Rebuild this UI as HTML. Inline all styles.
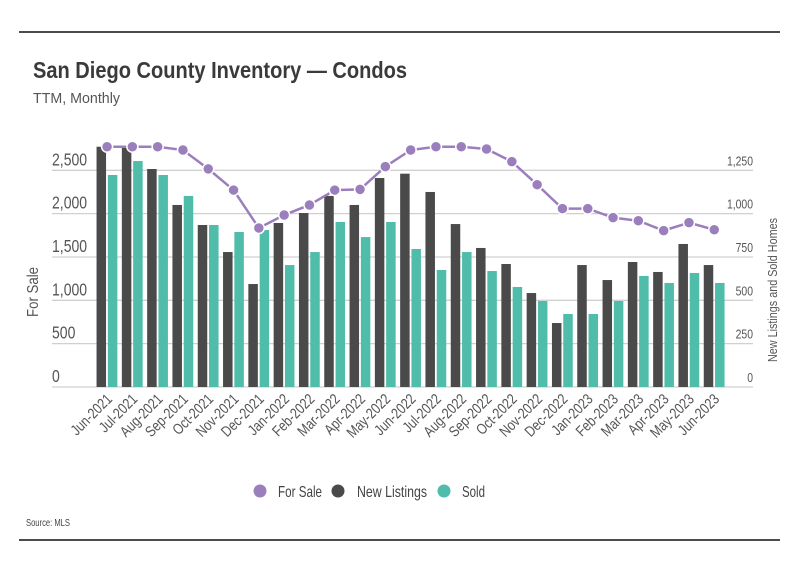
<!DOCTYPE html>
<html><head><meta charset="utf-8"><style>
html,body{margin:0;padding:0;background:#fff;}
body{width:799px;height:575px;overflow:hidden;font-family:"Liberation Sans",sans-serif;}
svg text{font-family:"Liberation Sans",sans-serif;}
</style></head><body>
<svg id="chart" width="799" height="575" xmlns="http://www.w3.org/2000/svg">
<line x1="19" y1="32" x2="780" y2="32" stroke="#111" stroke-width="1.5"/>
<text x="33" y="78" font-size="23" font-weight="bold" fill="#3a3a3a" textLength="374" lengthAdjust="spacingAndGlyphs">San Diego County Inventory — Condos</text>
<text x="33" y="103" font-size="15" fill="#555" textLength="87" lengthAdjust="spacingAndGlyphs">TTM, Monthly</text>
<g id="grid"></g>
<g id="bars"></g>
<g id="line"></g>
<g id="xlabels"></g>
<text transform="translate(38,292) rotate(-90)" text-anchor="middle" font-size="16" fill="#555" textLength="50" lengthAdjust="spacingAndGlyphs">For Sale</text>
<text transform="translate(777,290) rotate(-90)" text-anchor="middle" font-size="13" fill="#555" textLength="144" lengthAdjust="spacingAndGlyphs">New Listings and Sold Homes</text>
<g>
<circle cx="260" cy="491" r="6.5" fill="#9b7fbd"/>
<text x="278" y="497" font-size="16" fill="#444" textLength="44" lengthAdjust="spacingAndGlyphs">For Sale</text>
<circle cx="338" cy="491" r="6.5" fill="#4a4a4a"/>
<text x="357" y="497" font-size="16" fill="#444" textLength="70" lengthAdjust="spacingAndGlyphs">New Listings</text>
<circle cx="444" cy="491" r="6.5" fill="#4fbdaa"/>
<text x="462" y="497" font-size="16" fill="#444" textLength="23" lengthAdjust="spacingAndGlyphs">Sold</text>
</g>
<text x="26" y="526" font-size="10" fill="#444" textLength="44" lengthAdjust="spacingAndGlyphs">Source: MLS</text>
<line x1="19" y1="540" x2="780" y2="540" stroke="#111" stroke-width="1.5"/>
</svg>
<script>
const months = ["Jun-2021","Jul-2021","Aug-2021","Sep-2021","Oct-2021","Nov-2021","Dec-2021","Jan-2022","Feb-2022","Mar-2022","Apr-2022","May-2022","Jun-2022","Jul-2022","Aug-2022","Sep-2022","Oct-2022","Nov-2022","Dec-2022","Jan-2023","Feb-2023","Mar-2023","Apr-2023","May-2023","Jun-2023"];
const newListings = [2772,2760,2515,2100,1869,1557,1188,1892,2007,2204,2100,2411,2461,2250,1880,1604,1419,1084,738,1407,1234,1442,1327,1650,1407];
const sold = [2446,2607,2446,2204,1869,1788,1811,1407,1557,1904,1730,1904,1592,1350,1557,1338,1154,992,842,842,992,1281,1200,1315,1200];
const forSale = [1386,1386,1386,1367,1258,1136,917,992,1050,1136,1140,1271,1367,1386,1386,1373,1300,1167,1029,1029,977,959,902,948,907];
const leftTicks = [0,500,1000,1500,2000,2500];
const leftTickLabels = ["0","500","1,000","1,500","2,000","2,500"];
const rightTicks = [0,250,500,750,1000,1250];
const rightTickLabels = ["0","250","500","750","1,000","1,250"];

const NS="http://www.w3.org/2000/svg";
const y0=387, yTop=170.3;
function yL(v){return y0-(v/2500)*(y0-yTop);}
function yR(v){return y0-(v/1250)*(y0-yTop);}
const bandStart=94.4, step=25.3;
function xC(i){return bandStart+step*(i+0.5);}
function mk(tag,attrs,parent){const e=document.createElementNS(NS,tag);for(const k in attrs)e.setAttribute(k,attrs[k]);parent.appendChild(e);return e;}
const grid=document.getElementById('grid');
leftTicks.forEach((t,i)=>{
  const ln=mk('line',{x1:52,x2:753,y1:yL(t),y2:yL(t),stroke:'#d0d0d0','stroke-width':1.3},grid);
  
  
  const tx=mk('text',{x:0,y:0,'font-size':18,fill:'#555',transform:`translate(52,${yL(t)-5}) scale(0.78,1)`},grid);
  tx.textContent=leftTickLabels[i];
  
  
});
rightTicks.forEach((t,i)=>{
  const tx=mk('text',{x:0,y:0,'font-size':13,fill:'#555','text-anchor':'end',transform:`translate(753,${yR(t)-5}) scale(0.8,1)`},grid);
  tx.textContent=rightTickLabels[i];
  
  
});
const bars=document.getElementById('bars');
months.forEach((m,i)=>{
  const c=xC(i);
  const b1=mk('rect',{x:c-10.5,y:yL(newListings[i]),width:9.5,height:y0-yL(newListings[i]),fill:'#4a4a4a'},bars);
  
  
  const b2=mk('rect',{x:c+0.8,y:yL(sold[i]),width:9.5,height:y0-yL(sold[i]),fill:'#4fbdaa'},bars);
  
  
  const lb=mk('text',{x:0,y:0,'font-size':15,fill:'#555','text-anchor':'end',transform:`translate(${c+6},${y0+13}) rotate(-45) scale(0.82,1)`},document.getElementById('xlabels'));
  lb.textContent=m;
  
  
});
const lg=document.getElementById('line');
const pts=forSale.map((v,i)=>xC(i)+','+yR(v)).join(' ');
const pl=mk('polyline',{points:pts,fill:'none',stroke:'#9b7fbd','stroke-width':2.5},lg);


forSale.forEach((v,i)=>{
  const d=mk('circle',{cx:xC(i),cy:yR(v),r:5.5,fill:'#9b7fbd',stroke:'#fff','stroke-width':1.5},lg);
  
  
});
</script>
</body></html>
